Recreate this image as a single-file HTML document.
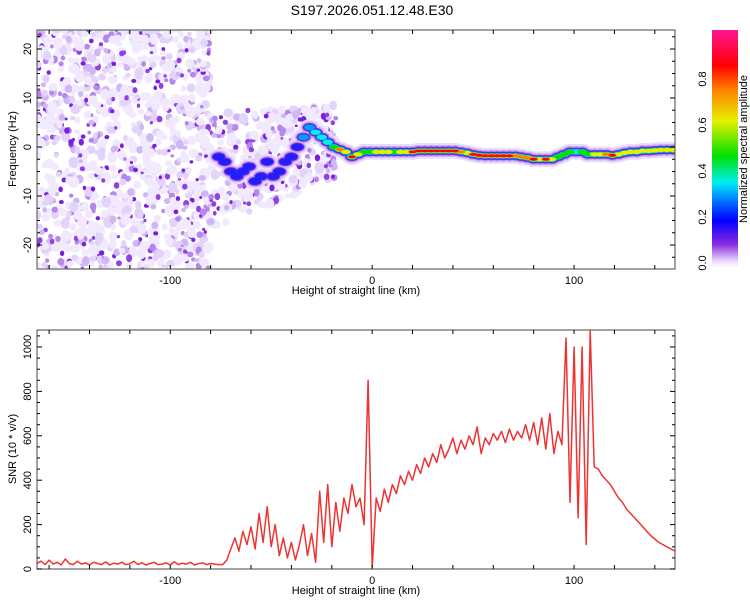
<!DOCTYPE html>
<html><head><meta charset="utf-8">
<style>
html,body{margin:0;padding:0;background:#fff;}
svg{display:block;font-family:"Liberation Sans",sans-serif;}
</style></head>
<body>
<svg id="chart" width="750" height="600" viewBox="0 0 750 600" xmlns="http://www.w3.org/2000/svg">
<text x="372" y="15" font-size="14" text-anchor="middle" fill="#000">S197.2026.051.12.48.E30</text>
<defs>
<clipPath id="clip1"><rect x="37" y="30" width="638" height="239"/></clipPath>
<clipPath id="clip2"><rect x="37" y="330" width="638" height="239"/></clipPath>
<linearGradient id="cbgrad" x1="0" y1="1" x2="0" y2="0">
<stop offset="0" stop-color="#ffffff"/>
<stop offset="0.03" stop-color="#e8d8fb"/>
<stop offset="0.1" stop-color="#8a2be2"/>
<stop offset="0.2" stop-color="#0000ff"/>
<stop offset="0.3" stop-color="#0090ff"/>
<stop offset="0.36" stop-color="#00f0f0"/>
<stop offset="0.47" stop-color="#00e000"/>
<stop offset="0.62" stop-color="#e8f000"/>
<stop offset="0.75" stop-color="#ff8000"/>
<stop offset="0.85" stop-color="#ff0000"/>
<stop offset="1" stop-color="#ff1493"/>
</linearGradient>
</defs>
<g id="spec" clip-path="url(#clip1)"></g>
<g id="snr" clip-path="url(#clip2)"></g>
<g id="axes"></g>
<rect x="712" y="30" width="26" height="238" fill="url(#cbgrad)"/>
<text transform="translate(747,149) rotate(-90)" font-size="11" text-anchor="middle">Normalized spectral amplitude</text>
<g id="cbticks"></g>
</svg>
<script>
// ---- data ----
const snrStart = -166;
const snrStep = 2;
const snrValues = [25,35,20,40,22,30,18,45,25,20,35,22,28,18,30,25,20,32,18,26,22,30,20,24,35,20,28,18,25,30,20,22,28,18,33,20,26,22,30,18,24,28,20,25,22,20,
20,40,90,140,80,170,110,190,90,250,120,280,100,200,60,140,50,120,40,110,200,60,160,30,350,120,380,100,300,170,320,250,380,280,320,200,850,10,
320,260,360,300,380,340,420,380,440,400,470,430,500,460,520,480,560,500,540,590,520,580,540,600,560,640,520,590,560,610,580,620,570,630,580,620,590,650,580,660,560,680,540,700,520,620,560,1040,300,1000,230,1000,110,1075,
460,450,420,400,380,350,320,300,270,250,230,210,190,170,150,135,120,110,100,90,80];
const ridgeHeights = [-76,-73,-70,-67,-64,-61,-58,-55,-52,-49,-46,-43,-40,-37,-34,-31,-28,-25,-22,-19,-16,-13,-10,-7,-4,-1,2,5,8,11,14,17,20,23,26,29,32,35,38,41,44,47,50,53,56,59,62,65,68,71,74,77,80,83,86,89,92,95,98,101,104,107,110,113,116,119,122,125,128,131,134,137,140,143,146,149];
const ridgeFreqs = [-2,-3,-5,-6,-5,-4,-7,-6,-3,-6,-5,-3,-2,0,2,4,3,2,1,0,-0.5,-1,-2,-1.5,-1,-1,-1,-1,-1,-1,-1,-1,-1,-0.8,-0.8,-0.8,-0.8,-0.8,-0.8,-0.8,-1,-1.2,-1.5,-1.7,-1.8,-1.8,-1.8,-1.8,-1.8,-1.8,-2,-2.2,-2.5,-2.5,-2.5,-2.5,-2,-1.5,-1,-1,-1,-1.5,-1.5,-1.5,-1.5,-1.7,-1.5,-1.2,-1,-1,-0.8,-0.8,-0.7,-0.6,-0.6,-0.6];
const ridgeAmps = [0.25,0.22,0.26,0.2,0.24,0.22,0.25,0.2,0.23,0.22,0.2,0.24,0.26,0.28,0.3,0.35,0.4,0.4,0.45,0.55,0.75,0.7,0.85,0.6,0.5,0.55,0.7,0.6,0.65,0.55,0.6,0.7,0.85,0.95,0.95,0.95,0.95,0.95,0.95,0.95,0.8,0.7,0.85,0.9,0.95,0.95,0.95,0.95,0.9,0.8,0.8,0.75,0.9,0.7,0.9,0.6,0.5,0.55,0.5,0.45,0.55,0.5,0.6,0.7,0.75,0.9,0.7,0.6,0.6,0.65,0.7,0.7,0.7,0.7,0.7,0.7];
const xTicks = [-100,0,100];
const freqTicks = [-20,-10,0,10,20];
const snrTicks = [0,200,400,600,800,1000];
const cbTicks = [0.0,0.2,0.4,0.6,0.8];

// ---- scales ----
const X0=37,X1=675,XMIN=-166,XMAX=150;
const sx = v => X0 + (v-XMIN)/(XMAX-XMIN)*(X1-X0);
const fy = v => 147 - v*4.9;
const sy = v => 569 - v*0.222;
const cby = v => 259 - v*230;
const NS="http://www.w3.org/2000/svg";
function mk(tag, attrs, parent){const e=document.createElementNS(NS,tag);for(const k in attrs)e.setAttribute(k,attrs[k]);parent.appendChild(e);return e;}
const spec=document.getElementById('spec'), snr=document.getElementById('snr'), axes=document.getElementById('axes');

// ---- spectrogram background speckle (texture) ----
let seed=12345;
function rnd(){seed=(seed*1103515245+12345)%2147483648;return seed/2147483648;}
const speckColors=['#f1e9fd','#e3d3fa','#d0b6f5','#b486ee','#9040e6','#7a1ee4'];
const speckSizes=[4.5,4,3.5,3,2.6,2.4];
for(let i=0;i<1500;i++){
  let h=XMIN+rnd()*86, f=-25+rnd()*50;
  if(i>=1100){h=-80+rnd()*62; f=-5+(h+80)*0.1+(rnd()-0.5)*(24-(h+80)*0.15);}
  const lvl=Math.floor(Math.pow(rnd(),2.2)*speckColors.length);
  const s=speckSizes[lvl]*(0.6+rnd()*0.6);
  const c=mk('ellipse',{cx:sx(h),cy:fy(f),rx:s,ry:s*(0.8+rnd()*0.5),fill:speckColors[lvl]},spec);
  
  
}
// ---- ridge ----
const levels=[[0.0,'#e8dcfb',8],[0.08,'#c9a8f2',6],[0.12,'#8a2be2',4.5],[0.2,'#2020ff',3.5],[0.3,'#00a0ff',3],[0.38,'#00f0e0',2.6],[0.47,'#00e000',2.3],[0.6,'#e8f000',2],[0.72,'#ff8000',1.7],[0.82,'#ff0000',1.4]];
levels.forEach(([thr,col,r])=>{
  ridgeHeights.forEach((h,i)=>{
    if(ridgeAmps[i]>=thr){
      const e=mk('ellipse',{cx:sx(h),cy:fy(ridgeFreqs[i]),rx:r+2.5,ry:r,fill:col},spec);
      
      
    }
  });
});

// ---- SNR line ----
let d='';
snrValues.forEach((v,i)=>{d+=(i?'L':'M')+sx(snrStart+i*snrStep).toFixed(1)+','+sy(v).toFixed(1);});
const ln=mk('path',{d:d,fill:'none',stroke:'#ee3333','stroke-width':1.5,'stroke-linejoin':'round'},snr);



// ---- axes ----
function frame(y0,y1,name){
  const r=mk('rect',{x:X0,y:y0,width:X1-X0,height:y1-y0,fill:'none',stroke:'#666','stroke-width':1.2},axes);
  
  
  for(let v=-160;v<=150;v+=20){
    const x=sx(v);
    mk('line',{x1:x,y1:y0,x2:x,y2:y0+4,stroke:'#000'},axes);
    mk('line',{x1:x,y1:y1,x2:x,y2:y1-4,stroke:'#000'},axes);
  }
}
frame(30,269,'spectrogram-frame');
frame(330,569,'snr-frame');
xTicks.forEach(v=>{
  [284,584].forEach(y=>{
    const t=mk('text',{x:sx(v),y:y,'font-size':11,'text-anchor':'middle'},axes);t.textContent=v;
    
    
  });
});
for(let f=-25;f<=24;f+=2.5){const y=fy(f);if(y<30||y>269)continue;const L=(f%10===0)?5:3;
  mk('line',{x1:X0,y1:y,x2:X0+L,y2:y,stroke:'#000'},axes);mk('line',{x1:X1,y1:y,x2:X1-L,y2:y,stroke:'#000'},axes);}
freqTicks.forEach(v=>{const t=mk('text',{transform:`translate(31,${fy(v)}) rotate(-90)`,'font-size':11,'text-anchor':'middle'},axes);t.textContent=v;
  
  });
for(let s=0;s<=1075;s+=50){const y=sy(s);const L=(s%200===0)?5:3;
  mk('line',{x1:X0,y1:y,x2:X0+L,y2:y,stroke:'#000'},axes);mk('line',{x1:X1,y1:y,x2:X1-L,y2:y,stroke:'#000'},axes);}
snrTicks.forEach(v=>{const t=mk('text',{transform:`translate(31,${sy(v)}) rotate(-90)`,'font-size':11,'text-anchor':'middle'},axes);t.textContent=v;
  
  });
const cbt=document.getElementById('cbticks');
cbTicks.forEach(v=>{const t=mk('text',{transform:`translate(706,${cby(v)+4}) rotate(-90)`,'font-size':11,'text-anchor':'middle'},cbt);t.textContent=v.toFixed(1);
  
  });
[['Height of straight line (km)',356,294,'x-axis-title-top'],['Height of straight line (km)',356,594,'x-axis-title-bottom']].forEach(([s,x,y,n])=>{
  const t=mk('text',{x:x,y:y,'font-size':11,'text-anchor':'middle'},axes);t.textContent=s;
  
  });
[['Frequency (Hz)',149,'y-axis-title-freq'],['SNR (10 * v/v)',449,'y-axis-title-snr']].forEach(([s,y,n])=>{
  const t=mk('text',{transform:`translate(16,${y}) rotate(-90)`,'font-size':11,'text-anchor':'middle'},axes);t.textContent=s;
  
  });
</script>
</body></html>
